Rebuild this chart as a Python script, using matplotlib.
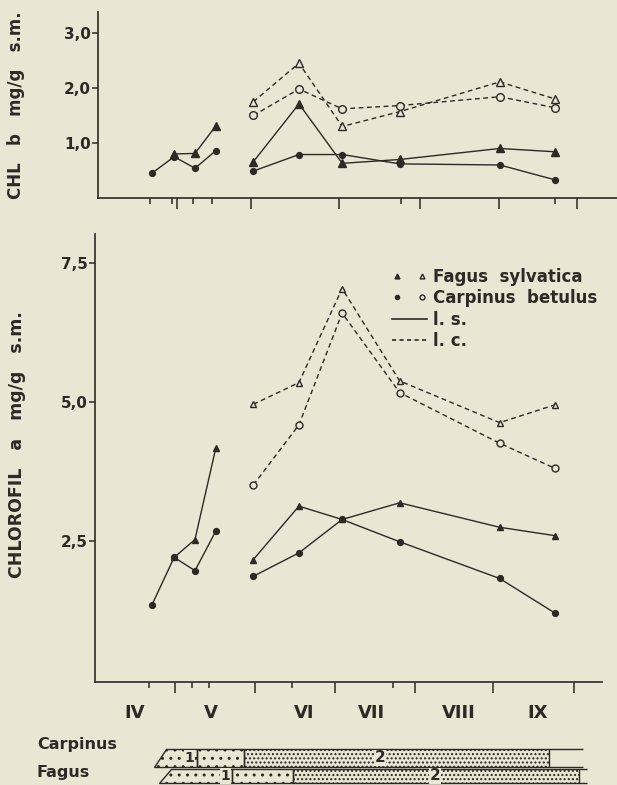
import numpy as np
import matplotlib.pyplot as plt
from matplotlib.lines import Line2D
from matplotlib.legend_handler import HandlerTuple

plt.rcParams["font.family"] = "DejaVu Sans"
plt.rcParams["font.weight"] = "bold"
plt.rcParams["axes.labelweight"] = "bold"
plt.rcParams["hatch.linewidth"] = 1.0

PAPER = "#e9e6d4"
INK = "#2e2925"
nan = np.nan

# sampling dates, in months after 1 April
dates = [0.71, 0.99, 1.25, 1.51, 1.98, 2.55, 3.09, 3.81, 5.06, 5.75]

# chlorophyll b (mg/g s.m.)
chlb_fagus_ls = [nan, 0.80, 0.81, 1.31, 0.66, 1.71, 0.63, 0.70, 0.90, 0.84]
chlb_carp_ls = [0.45, 0.75, 0.54, 0.86, 0.49, 0.79, 0.79, 0.62, 0.60, 0.33]
chlb_fagus_lc = [nan, nan, nan, nan, 1.75, 2.45, 1.30, 1.57, 2.11, 1.80]
chlb_carp_lc = [nan, nan, nan, nan, 1.50, 1.98, 1.62, 1.68, 1.84, 1.64]

# chlorophyll a (mg/g s.m.)
chla_fagus_ls = [nan, 2.21, 2.53, 4.17, 2.17, 3.13, 2.89, 3.19, 2.75, 2.60]
chla_carp_ls = [1.35, 2.21, 1.97, 2.68, 1.87, 2.29, 2.89, 2.49, 1.83, 1.21]
chla_fagus_lc = [nan, nan, nan, nan, 4.96, 5.35, 7.04, 5.38, 4.63, 4.95]
chla_carp_lc = [nan, nan, nan, nan, 3.51, 4.59, 6.60, 5.17, 4.26, 3.81]

months = ["IV", "V", "VI", "VII", "VIII", "IX"]
month_pos = [0.49, 1.45, 2.61, 3.46, 4.55, 5.53]

top_major = [1.03, 1.95, 3.05, 4.06, 5.05, 6.03]
top_minor = [0.69, 0.96, 1.23, 1.46, 3.83, 5.75]
bot_major = [1.0, 2.0, 3.0, 4.0, 4.98, 5.99]
bot_minor = [0.68, 1.21, 1.43, 2.46, 3.73]

chlb_ticks = [1.0, 2.0, 3.0]
chlb_labels = ["1,0", "2,0", "3,0"]
chla_ticks = [2.5, 5.0, 7.5]
chla_labels = ["2,5", "5,0", "7,5"]

# phenological phases (start, end, phase) and where the bar outline stops
carp_phases = [(0.74, 1.28, 1), (1.28, 1.86, 1), (1.86, 5.68, 2)]
carp_end = 6.10
fagus_phases = [(0.80, 1.71, 1), (1.71, 2.48, 1), (2.48, 6.05, 2)]
fagus_end = 6.15

W, H = 617, 785


def box(left, top, right, bottom):
    return [left / W, 1 - bottom / H, (right - left) / W, (bottom - top) / H]


def style_axis(ax, ticks, labels, major, minor):
    for s in ["top", "right"]:
        ax.spines[s].set_visible(False)
    for s in ["left", "bottom"]:
        ax.spines[s].set_linewidth(1.2)
        ax.spines[s].set_color(INK)
    ax.set_facecolor("none")
    ax.set_yticks(ticks)
    ax.set_yticklabels(labels)
    ax.set_xticks(major)
    ax.set_xticks(minor, minor=True)
    ax.set_xticklabels([])
    ax.tick_params(axis="y", direction="out", length=4, width=1.1, pad=1,
                   labelsize=11, colors=INK)
    ax.tick_params(axis="x", which="major", direction="out", length=8, width=1.1, colors=INK)
    ax.tick_params(axis="x", which="minor", direction="out", length=4.5, width=1.1, colors=INK)


def draw_series(ax, vals, marker, filled, dashed, ms):
    x = np.array(dates)
    y = np.array(vals)
    kw = dict(color=INK, lw=1.0, marker=marker, ms=ms, mec=INK,
              mfc=INK if filled else PAPER, mew=1.0)
    if dashed:
        kw["ls"] = (0, (3.5, 2.5))
    for sl in (slice(0, 4), slice(4, 10)):
        if np.all(np.isnan(y[sl])):
            continue
        ax.plot(x[sl], y[sl], **kw)


fig = plt.figure(figsize=(6.17, 7.85), dpi=100, facecolor=PAPER)

# ---- chlorophyll b ----
ax_b = fig.add_axes(box(98, 12, 617, 198))
ax_b.set_xlim(0.0375, 6.525)
ax_b.set_ylim(0, 3.38)
style_axis(ax_b, chlb_ticks, chlb_labels, top_major, top_minor)
draw_series(ax_b, chlb_fagus_lc, "^", False, True, 5.5)
draw_series(ax_b, chlb_carp_lc, "o", False, True, 5.5)
draw_series(ax_b, chlb_carp_ls, "o", True, False, 4.2)
draw_series(ax_b, chlb_fagus_ls, "^", True, False, 5.5)
ax_b.set_ylabel("CHL   b   mg/g   s.m.", fontsize=12, color=INK)
ax_b.yaxis.set_label_coords(-0.14, 0.5)

# ---- chlorophyll a ----
ax_a = fig.add_axes(box(95, 234, 602, 682))
ax_a.set_xlim(0, 6.34)
ax_a.set_ylim(-0.03, 8.02)
style_axis(ax_a, chla_ticks, chla_labels, bot_major, bot_minor)
draw_series(ax_a, chla_fagus_lc, "^", False, True, 5)
draw_series(ax_a, chla_carp_lc, "o", False, True, 5)
draw_series(ax_a, chla_carp_ls, "o", True, False, 4.2)
draw_series(ax_a, chla_fagus_ls, "^", True, False, 5)
ax_a.set_ylabel("CHLOROFIL   a   mg/g   s.m.", fontsize=12.5, color=INK)
ax_a.yaxis.set_label_coords(-0.137, 0.53)

for m, p in zip(months, month_pos):
    ax_a.text(p, -0.07, m, transform=ax_a.get_xaxis_transform(), ha="center",
              va="center", fontsize=13, color=INK)

handles = [
    (Line2D([], [], ls="none", marker="^", ms=3.5, color=INK),
     Line2D([], [], ls="none", marker="^", ms=3.5, mfc=PAPER, mec=INK)),
    (Line2D([], [], ls="none", marker="o", ms=3, color=INK),
     Line2D([], [], ls="none", marker="o", ms=3.5, mfc=PAPER, mec=INK)),
    Line2D([], [], color=INK, lw=1.2),
    Line2D([], [], color=INK, lw=1.2, ls=(0, (2.5, 2))),
]
labels = ["Fagus  sylvatica", "Carpinus  betulus", "l. s.", "l. c."]
leg = ax_a.legend(handles, labels, handler_map={tuple: HandlerTuple(ndivide=None, pad=0.8)},
                  loc="upper left", bbox_to_anchor=(392 / W, 1 - 268 / H),
                  bbox_transform=fig.transFigure, frameon=False, fontsize=12,
                  handlelength=2.1, handletextpad=0.35, labelspacing=0.2,
                  borderpad=0, borderaxespad=0)
for t in leg.get_texts():
    t.set_color(INK)

# ---- phenology bars ----
ax_p = fig.add_axes(box(95, 735, 602, 785))
ax_p.set_xlim(0, 6.34)
ax_p.set_ylim(0, 50)
ax_p.axis("off")

hatches = {1: "..", 2: "...."}
bars = [(carp_phases, carp_end, 18, 36, 1.18, 3.56),
        (fagus_phases, fagus_end, 2, 16, 1.63, 4.25)]
for phases, end, y0, y1, pos1, pos2 in bars:
    for i, (a, b, ph) in enumerate(phases):
        slant = 0.15 if i == 0 else 0
        ax_p.fill([a, b, b, a + slant], [y0, y0, y1, y1], facecolor="none",
                  edgecolor=INK, hatch=hatches[ph], lw=1.0)
    ax_p.hlines([y0, y1], phases[-1][1], end, color=INK, lw=1.0)
    ax_p.text(pos1, (y0 + y1) / 2, "1", ha="center", va="center", fontsize=10,
              color=INK, bbox=dict(fc=PAPER, ec="none", pad=0.5))
    ax_p.text(pos2, (y0 + y1) / 2, "2", ha="center", va="center", fontsize=11,
              color=INK, bbox=dict(fc=PAPER, ec="none", pad=0.5))

fig.text(37 / W, 1 - 745 / H, "Carpinus", ha="left", va="center", fontsize=11.5, color=INK)
fig.text(37 / W, 1 - 772 / H, "Fagus", ha="left", va="center", fontsize=11.5, color=INK)

fig.savefig("out.png", dpi=100, facecolor=PAPER)
